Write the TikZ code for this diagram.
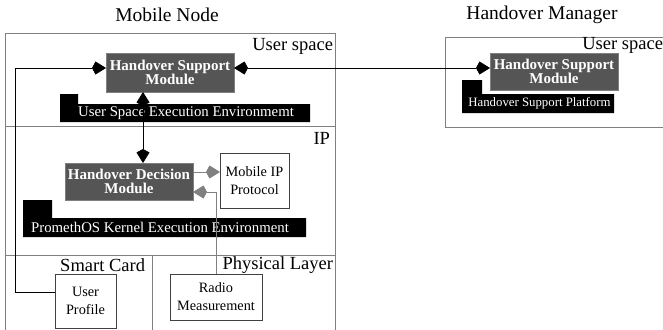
\documentclass[tikz,border=0pt]{standalone}
\usepackage{fontspec}
\setmainfont{Liberation Serif}
\usetikzlibrary{arrows.meta}
\definecolor{modfill}{HTML}{555555}
\definecolor{linegray}{HTML}{808080}
\begin{document}
\begin{tikzpicture}[x=1pt,y=-1pt,
  every node/.style={inner sep=0pt, outer sep=0pt},
  module/.style={draw=linegray, fill=modfill, text=white, font=\bfseries\fontsize{15}{14}\selectfont, align=center, line width=0.6pt},
  plainbox/.style={draw=black!75, fill=white, font=\fontsize{14.3}{18}\selectfont, align=center, line width=0.6pt},
  section/.style={draw=linegray, line width=0.7pt},
  lbl/.style={font=\fontsize{18.5}{18.5}\selectfont},
  ttl/.style={font=\fontsize{19.5}{19.5}\selectfont},
  envtext/.style={text=white, font=\fontsize{14.8}{14.8}\selectfont},
  envbar/.style={fill=black},
  conn/.style={line width=0.6pt, -{Kite[length=14pt,width=13pt,inset=3.5pt]}},
  dconn/.style={line width=0.6pt, {Kite[length=14pt,width=13pt,inset=3.5pt]}-{Kite[length=14pt,width=13pt,inset=3.5pt]}}
]
\useasboundingbox (0,0) rectangle (663,329);
% titles
\node[ttl] (mntitle) at (167,15) {Mobile Node};
\node[ttl] (hmtitle) at (542,15) {Handover Manager};
% mobile node frame
\draw[section] (5,33) rectangle (335,331);
\draw[section] (5,126) -- (335,126);
\draw[section] (5,255) -- (335,255);
\draw[section] (152,255) -- (152,331);
% handover manager frame
\draw[section] (445,37) rectangle (664,127);
% section labels
\node[lbl, anchor=east] (us1) at (333,46) {User space};
\node[lbl, anchor=east] (us2) at (663,45) {User space};
\node[lbl, anchor=east] (ip) at (330,138) {IP};
\node[lbl, anchor=east] (sc) at (145,265) {Smart Card};
\node[lbl, anchor=east] (pl) at (333,265) {Physical Layer};
% execution environment bars
\fill[envbar] (60,94) -- (78,94) -- (78,104) -- (310,104) -- (310,122) -- (60,122) -- cycle;
\node[envtext] (usee) at (186,113) {User Space Execution Environmemt};
\fill[envbar] (23,200) -- (52,200) -- (52,218) -- (306,218) -- (306,237) -- (23,237) -- cycle;
\node[envtext] (pkee) at (160,227.5) {PromethOS Kernel Execution Environment};
\fill[envbar] (462,80) -- (482,80) -- (482,94) -- (614,94) -- (614,113) -- (462,113) -- cycle;
\node[envtext, font=\fontsize{12.8}{12.8}\selectfont] (hsp) at (539.5,103.5) {Handover Support Platform};
% modules
\node[module, minimum width=128pt, minimum height=39pt] (hsm1) at (170,72.5) {Handover Support\\Module};
\node[module, minimum width=128pt, minimum height=37pt] (hsm2) at (554,71.5) {Handover Support\\Module};
\node[module, minimum width=128pt, minimum height=37pt] (hdm) at (129,181.5) {Handover Decision\\Module};
\node[plainbox, minimum width=69pt, minimum height=55pt] (mip) at (254.5,180.5) {Mobile IP\\Protocol};
\node[plainbox, minimum width=61pt, minimum height=54pt] (up) at (85.5,301) {User\\Profile};
\node[plainbox, minimum width=92pt, minimum height=46pt] (rm) at (216,297) {Radio\\Measurement};
% connector helper coordinates
\coordinate (upc) at (15,292);
\coordinate (topc) at (15,68);
\coordinate (rmc) at (216,192);
% connectors
\draw[conn] (up.west |- upc) -- (upc) -- (topc) -- (hsm1.west |- topc);
\draw[dconn] (hsm1.east |- 0,68) -- (hsm2.west |- 0,68);
\draw[dconn] (hsm1.south -| 143,0) -- (hdm.north -| 143,0);
\draw[conn, draw=linegray] (hdm.east |- 0,172) -- (mip.west |- 0,172);
\draw[conn, draw=linegray] (rm.north) -- (rmc) -- (hdm.east |- rmc);
\end{tikzpicture}
\end{document}
